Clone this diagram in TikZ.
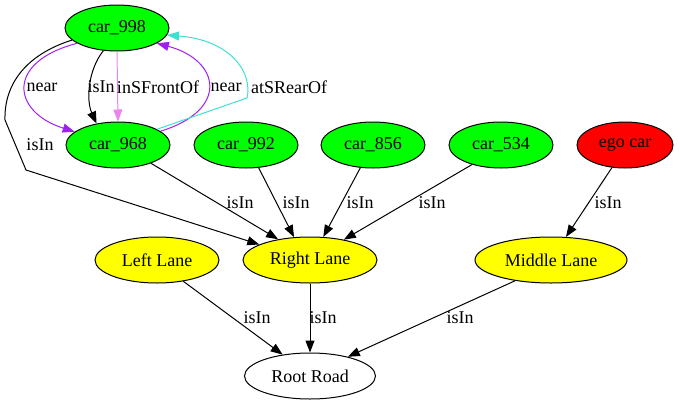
\documentclass[tikz,border=0pt]{standalone}
\usepackage{fontspec}
\setmainfont{Liberation Serif}
\definecolor{gvgreen}{RGB}{0,255,0}
\definecolor{gvred}{RGB}{255,0,0}
\definecolor{gvyellow}{RGB}{255,255,0}
\definecolor{gvpurple}{RGB}{160,32,240}
\definecolor{gvviolet}{RGB}{238,130,238}
\definecolor{gvturq}{RGB}{64,224,208}
\usetikzlibrary{arrows.meta,positioning,shapes.geometric}

\begin{document}
\begin{tikzpicture}[
  x=1pt,y=-1pt,
  ent/.style={draw,ellipse,line width=1pt,inner sep=0pt,minimum height=46pt,
    font=\fontsize{18}{20}\selectfont},
  car/.style={ent,fill=gvgreen,minimum width=104pt},
  lane/.style={ent,fill=gvyellow},
  lbl/.style={inner sep=0pt,font=\fontsize{18}{20}\selectfont},
  rel/.style={line width=1pt,-{Triangle[length=12pt,width=9pt]}}
]
  \useasboundingbox (0,0) rectangle (680,407);
  % Cars
  \node[car] (c998) at (117,28) {car\_998};
  \node[car] (c968) at (118,145) {car\_968};
  \node[car] (c992) at (246,145) {car\_992};
  \node[car] (c856) at (373,145) {car\_856};
  \node[car] (c534) at (501,145) {car\_534};
  \node[ent,fill=gvred,minimum width=96pt] (ego) at (625,145) {ego car};
  % Lanes and road
  \node[lane,minimum width=124pt] (ll) at (157,260) {Left Lane};
  \node[lane,minimum width=134pt] (rl) at (310,260) {Right Lane};
  \node[lane,minimum width=152pt] (ml) at (551,260) {Middle Lane};
  \node[ent,fill=white,minimum width=131pt] (rr) at (310,376) {Root Road};
  % Relations between car_998 and car_968
  \draw[rel,gvpurple] (c998.-159) .. controls (5,62) and (12,112) .. (c968.163);
  \draw[rel] (c998.-121) .. controls (88,70) and (86,100) .. (c968.135);
  \draw[rel,gvviolet] (c998.south) -- (c968.north);
  \draw[rel,gvpurple] (c968.18) .. controls (230,110) and (220,60) .. (c998.-21);
  \draw[rel,gvturq] (c968.22) -- (247,98) .. controls (253,72) and (230,40) .. (c998.-8);
  \draw[rel] (c998.-165) .. controls (25,55) and (4,85) .. (5,120) -- (26,170) -- (rl.163);
  % isIn relations
  \draw[rel] (c968.-29) -- (rl.147);
  \draw[rel] (c992.-61) -- (rl.125);
  \draw[rel] (c856.-119) -- (rl.60);
  \draw[rel] (c534.-146) -- (rl.31);
  \draw[rel] (ego.-120) -- (ml.57);
  \draw[rel] (ll.-39) -- (rr.142);
  \draw[rel] (rl.south) -- (rr.north);
  \draw[rel] (ml.-150) -- (rr.27);
  % Labels
  \node[lbl] (lnear1) at (42,87) {near};
  \node[lbl] (lisin1) at (101,87) {isIn};
  \node[lbl] (lfront) at (158,87) {inSFrontOf};
  \node[lbl] (lnear2) at (226,87) {near};
  \node[lbl] (lrear) at (289,87) {atSRearOf};
  \node[lbl] (lisin2) at (40,145) {isIn};
  \node[lbl] (lisin3) at (240,203) {isIn};
  \node[lbl] (lisin4) at (296,203) {isIn};
  \node[lbl] (lisin5) at (360,203) {isIn};
  \node[lbl] (lisin6) at (432,203) {isIn};
  \node[lbl] (lisin7) at (608,203) {isIn};
  \node[lbl] (lisin8) at (257,318) {isIn};
  \node[lbl] (lisin9) at (323,318) {isIn};
  \node[lbl] (lisin10) at (460,318) {isIn};
\end{tikzpicture}
\end{document}
